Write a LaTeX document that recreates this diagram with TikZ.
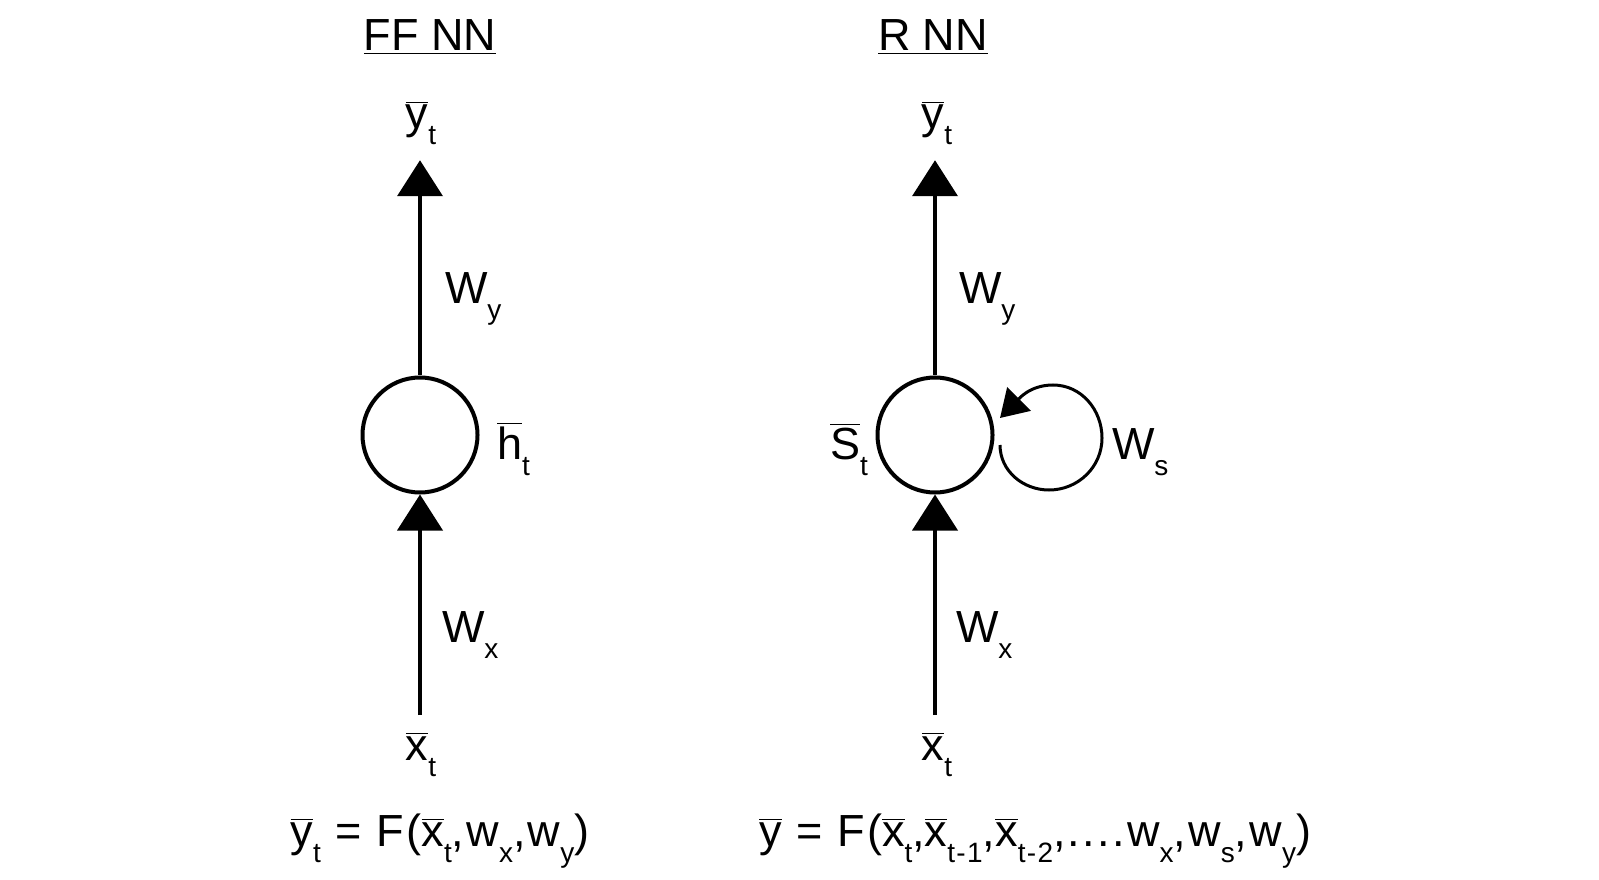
\documentclass[tikz,border=0pt]{standalone}
\usepackage{fontspec}
\setmainfont{Liberation Sans}
\usepackage{tikz}
\usetikzlibrary{arrows.meta,positioning}
\tikzset{
  rnn/.style={x=0.5pt, y=0.5pt, line width=2pt,
              every node/.style={font=\fontsize{22.5}{27}\selectfont, inner sep=0pt}},
  unit/.style={draw, circle, minimum size=57.5pt},
  lbl/.style={anchor=base west},
  flow/.style={-{Triangle[width=22.5pt,length=18pt]}},
  self/.style={line width=1.5pt, -{Triangle[width=16.5pt,length=13.5pt]}},
  ttl/.style={anchor=base},
  eqn/.style={anchor=base, font=\fontsize{22.5}{27}\selectfont\addfontfeature{LetterSpace=5}}
}
\newcommand{\vb}[1]{\ensuremath{\overline{\mbox{#1}}}}
\newcommand{\lo}[1]{\raisebox{-8pt}{\fontsize{14}{14}\selectfont #1}}

\begin{document}
\begin{tikzpicture}[rnn]
\useasboundingbox (0,0) rectangle (1599,879);
% feed-forward net
\node[ttl] (tff) at (430,828) {\underline{FF NN}};
\node[unit] (hff) at (420,444) {};
\node[ttl] (yff) at (421,750) {\vb{y}\lo{t}};
\node[ttl] (xff) at (421,119) {\vb{x}\lo{t}};
\node[lbl] (wyff) at (443,575) {W\lo{y}};
\node[lbl] (wxff) at (440,237) {W\lo{x}};
\node[lbl] (hlab) at (495,420) {\vb{h}\lo{t}};
\draw[flow, shorten >=6.5pt] (hff.north) -- (hff.north |- yff.south);
\draw[flow, shorten <=7.5pt] (hff.south |- xff.north) -- (hff.south);
\node[eqn] (fff) at (440,33) {\vb{y}\lo{t} = F(\vb{x}\lo{t},w\lo{x},w\lo{y})};
% recurrent net
\node[ttl] (trn) at (933,828) {\underline{R NN}};
\node[unit] (srn) at (935,444) {};
\node[ttl] (yrn) at (937,750) {\vb{y}\lo{t}};
\node[ttl] (xrn) at (937,119) {\vb{x}\lo{t}};
\node[lbl] (wyrn) at (957,575) {W\lo{y}};
\node[lbl] (wxrn) at (954,237) {W\lo{x}};
\node[lbl] (slab) at (828,420) {\vb{S}\lo{t}};
\node[lbl] (wsrn) at (1110,420) {W\lo{s}};
\draw[flow, shorten >=6.5pt] (srn.north) -- (srn.north |- yrn.south);
\draw[flow, shorten <=7.5pt] (srn.south |- xrn.north) -- (srn.south);
\coordinate (lpa) at (1000,434);
\coordinate (lpb) at (1000,461);
\draw[self] (lpa) to[out=-90,in=180] (1049,389) to[out=0,in=-90] (1102,441)
  to[out=90,in=0] (1053,494) to[out=180,in=45] (lpb);
\node[eqn] (frn) at (1035,33) {\vb{y} = F(\vb{x}\lo{t},\vb{x}\lo{t-1},\vb{x}\lo{t-2},....w\lo{x},w\lo{s},w\lo{y})};
\end{tikzpicture}
\end{document}
